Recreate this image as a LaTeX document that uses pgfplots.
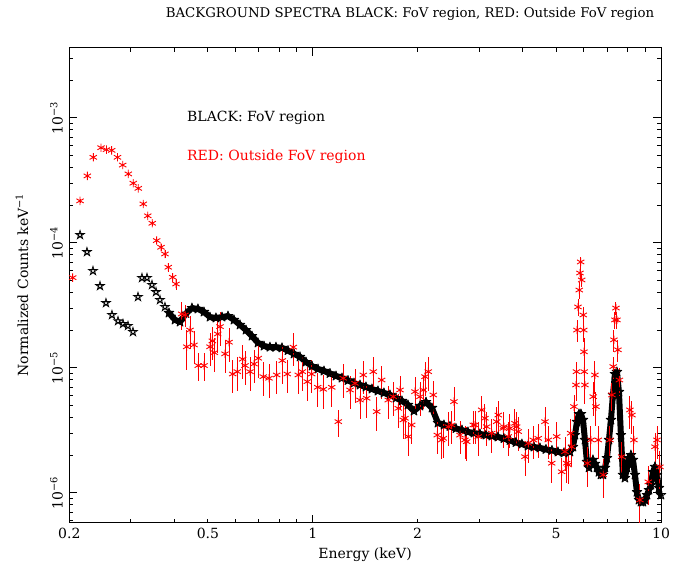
\documentclass[border=0pt]{standalone}
\usepackage{pgfplots}
\pgfplotsset{compat=1.18}
\usepackage{fontspec}
\setmainfont{DejaVu Serif}

% outline five-pointed star, as in the PGPLOT plot
\pgfdeclareplotmark{pstar}{%
  \pgfpathmoveto{\pgfqpointpolar{90}{\pgfplotmarksize}}%
  \pgfpathlineto{\pgfqpointpolar{234}{\pgfplotmarksize}}%
  \pgfpathlineto{\pgfqpointpolar{18}{\pgfplotmarksize}}%
  \pgfpathlineto{\pgfqpointpolar{162}{\pgfplotmarksize}}%
  \pgfpathlineto{\pgfqpointpolar{306}{\pgfplotmarksize}}%
  \pgfpathclose\pgfusepathqstroke}

\begin{document}
\begin{tikzpicture}
\useasboundingbox (-69.3bp,-48.3bp) rectangle (603.7bp,522.7bp);
\begin{axis}[
    at={(0,0)}, anchor=south west,
    scale only axis,
    width=591.7bp, height=474.7bp,
    xmode=log, ymode=log,
    xmin=0.2, xmax=10,
    ymin=5.75e-7, ymax=3.61e-3,
    axis line style={line width=1bp},
    every tick/.style={black, line width=0.8bp},
    major tick length=8bp,
    minor tick length=4bp,
    xtick={1,10},
    xticklabels={1,10},
    extra x ticks={0.2,0.5,2,5},
    extra x tick labels={0.2,0.5,2,5},
    extra x tick style={major tick length=4bp},
    minor xtick={0.3,0.4,0.6,0.7,0.8,0.9,3,4,6,7,8,9},
    ytick={1e-6,1e-5,1e-4,1e-3},
    yticklabels={10\textsuperscript{−6},10\textsuperscript{−5},10\textsuperscript{−4},10\textsuperscript{−3}},
    minor ytick={6e-7,7e-7,8e-7,9e-7,2e-6,3e-6,4e-6,5e-6,6e-6,7e-6,8e-6,9e-6,
                 2e-5,3e-5,4e-5,5e-5,6e-5,7e-5,8e-5,9e-5,
                 2e-4,3e-4,4e-4,5e-4,6e-4,7e-4,8e-4,9e-4,2e-3,3e-3},
    /pgf/number format/assume math mode=true,
    tick label style={font=\fontsize{14bp}{16bp}\selectfont},
    yticklabel style={xshift=-3bp, rotate=90, anchor=south},
    xticklabel style={yshift=-2bp},
]

% BLACK: FoV region, low-energy channels
\addplot[only marks, mark=pstar, mark size=4.5bp, black, line width=0.8bp] table {
x y
0.2147 1.152e-4
0.2248 8.42e-5
0.2339 5.94e-5
0.2450 4.50e-5
0.2549 3.29e-5
0.2652 2.64e-5
0.2760 2.36e-5
0.2852 2.24e-5
0.2948 2.16e-5
0.3047 1.93e-5
0.3150 3.68e-5
0.3234 5.22e-5
0.3343 5.22e-5
0.3455 4.59e-5
0.3548 4.03e-5
0.3643 3.48e-5
0.3765 3.06e-5
};

% BLACK: FoV region, dense channels drawn as a band
\addplot[black, line width=6bp, line join=round, line cap=round,
    mark=pstar, mark size=5bp, mark options={line width=0.9bp}] table {
x y
0.3866 2.74e-5
0.4023 2.41e-5
0.4158 2.32e-5
0.4326 2.71e-5
0.4500 3.00e-5
0.4682 2.95e-5
0.4872 2.79e-5
0.5069 2.54e-5
0.5274 2.50e-5
0.5488 2.54e-5
0.5710 2.59e-5
0.5941 2.41e-5
0.6182 2.20e-5
0.6432 2.00e-5
0.6692 1.79e-5
0.6963 1.58e-5
0.7245 1.49e-5
0.7538 1.46e-5
0.7843 1.46e-5
0.8161 1.44e-5
0.8491 1.37e-5
0.8835 1.29e-5
0.9192 1.22e-5
0.9563 1.11e-5
0.9950 1.03e-5
1.0353 9.76e-6
1.0772 9.41e-6
1.1208 8.99e-6
1.1661 8.58e-6
1.2133 8.27e-6
1.2624 7.90e-6
1.3135 7.54e-6
1.3666 7.27e-6
1.4219 7.01e-6
1.4794 6.75e-6
1.5393 6.51e-6
1.6016 6.28e-6
1.6664 6.05e-6
1.7338 5.72e-6
1.8040 5.42e-6
1.8770 5.03e-6
1.9529 4.50e-6
2.0319 4.94e-6
2.1141 5.31e-6
2.1997 4.76e-6
2.2887 3.61e-6
2.3813 3.48e-6
2.4776 3.39e-6
2.5779 3.26e-6
2.6822 3.17e-6
2.7907 3.06e-6
2.9036 3.00e-6
3.0211 2.95e-6
3.1434 2.89e-6
3.2706 2.84e-6
3.4029 2.79e-6
3.5406 2.71e-6
3.6838 2.62e-6
3.8329 2.52e-6
3.9880 2.45e-6
4.1493 2.36e-6
4.3172 2.32e-6
4.4919 2.28e-6
4.6736 2.22e-6
4.8627 2.18e-6
5.0595 2.12e-6
5.2642 2.08e-6
5.4772 2.12e-6
5.587 2.32e-6
5.662 2.89e-6
5.737 3.68e-6
5.814 4.26e-6
5.891 4.26e-6
5.970 3.82e-6
6.049 2.64e-6
6.129 1.76e-6
6.211 1.58e-6
6.294 1.73e-6
6.377 1.83e-6
6.462 1.70e-6
6.548 1.58e-6
6.635 1.46e-6
6.724 1.39e-6
6.813 1.39e-6
6.904 1.58e-6
6.995 1.89e-6
7.088 2.64e-6
7.183 3.82e-6
7.278 6.05e-6
7.375 8.90e-6
7.473 9.24e-6
7.573 6.39e-6
7.673 2.89e-6
7.775 1.39e-6
7.879 1.31e-6
7.984 1.58e-6
8.090 1.89e-6
8.198 2.00e-6
8.307 1.83e-6
8.417 1.39e-6
8.529 1.01e-6
8.643 8.74e-7
8.758 8.42e-7
8.874 8.42e-7
8.992 8.74e-7
9.112 9.58e-7
9.233 1.05e-6
9.356 1.15e-6
9.480 1.46e-6
9.607 1.61e-6
9.736 1.39e-6
9.865 1.09e-6
9.997 9.58e-7
};

% RED: Outside FoV region (relative errors in column e)
\addplot[only marks, mark=asterisk, mark size=4.2bp, red, line width=0.9bp,
    error bars/.cd, y dir=both, y explicit relative, error mark=none,
    error bar style={red, line width=0.9bp}]
  table[x=x, y=y, y error=e] {
x y e
0.2045 5.25e-5 0.05
0.2147 2.16e-4 0.03
0.2253 3.42e-4 0.02
0.2344 4.82e-4 0.02
0.2467 5.75e-4 0.02
0.2557 5.55e-4 0.02
0.2647 5.48e-4 0.02
0.2750 4.82e-4 0.02
0.2847 4.18e-4 0.02
0.2954 3.55e-4 0.03
0.3053 2.99e-4 0.03
0.3156 2.72e-4 0.03
0.3262 2.04e-4 0.04
0.3360 1.64e-4 0.04
0.3462 1.43e-4 0.05
0.3564 1.04e-4 0.06
0.3667 9.19e-5 0.06
0.3765 8.12e-5 0.07
0.3848 6.36e-5 0.08
0.3962 5.29e-5 0.09
0.4049 4.67e-5 0.10
0.4205 2.69e-5 0.25
0.4298 2.64e-5 0.20
0.4346 1.47e-5 0.35
0.4442 2.00e-5 0.30
0.4561 1.52e-5 0.30
0.4692 1.04e-5 0.25
0.4873 1.04e-5 0.25
0.5070 1.47e-5 0.30
0.5148 1.64e-5 0.30
0.5216 1.32e-5 0.30
0.5335 1.86e-5 0.30
0.5417 2.13e-5 0.30
0.5599 1.29e-5 0.30
0.5749 1.60e-5 0.30
0.5891 8.90e-6 0.30
0.6073 9.29e-6 0.30
0.6293 1.17e-5 0.30
0.6390 1.04e-5 0.30
0.6605 9.29e-6 0.30
0.6782 1.07e-5 0.30
0.6977 1.19e-5 0.30
0.7212 8.47e-6 0.30
0.7489 8.23e-6 0.30
0.7880 8.74e-6 0.30
0.8177 1.14e-5 0.35
0.8452 8.90e-6 0.30
0.8794 1.46e-5 0.30
0.9090 8.74e-6 0.30
0.9334 9.29e-6 0.30
0.9648 7.73e-6 0.30
0.9933 8.90e-6 0.30
1.0334 6.97e-6 0.30
1.0724 6.72e-6 0.30
1.1336 6.97e-6 0.30
1.1841 3.70e-6 0.25
1.2239 8.23e-6 0.30
1.2793 6.63e-6 0.30
1.3224 7.50e-6 0.30
1.3668 5.51e-6 0.30
1.3969 8.74e-6 0.30
1.4286 5.69e-6 0.30
1.4924 9.29e-6 0.30
1.5263 4.45e-6 0.30
1.5775 7.97e-6 0.30
1.6479 5.51e-6 0.30
1.7033 5.86e-6 0.30
1.7606 4.73e-6 0.30
1.7805 6.63e-6 0.30
1.8198 3.82e-6 0.30
1.8403 3.94e-6 0.30
1.8809 2.81e-6 0.30
1.9236 3.48e-6 0.30
1.9660 6.43e-6 0.30
2.0317 5.86e-6 0.30
2.0768 6.63e-6 0.30
2.1003 8.47e-6 0.30
2.1466 9.29e-6 0.30
2.2188 6.05e-6 0.30
2.2782 2.89e-6 0.30
2.3454 2.64e-6 0.30
2.3704 2.72e-6 0.30
2.4500 3.37e-6 0.30
2.5056 3.48e-6 0.30
2.5440 5.35e-6 0.30
2.6469 2.89e-6 0.30
2.7358 2.64e-6 0.30
2.7668 2.56e-6 0.30
2.8902 3.48e-6 0.30
2.9228 3.48e-6 0.30
2.9874 2.81e-6 0.30
3.0553 4.59e-6 0.30
3.1226 3.94e-6 0.30
3.1580 3.37e-6 0.30
3.2640 2.99e-6 0.30
3.3742 3.70e-6 0.30
3.4096 4.18e-6 0.30
3.5240 3.27e-6 0.30
3.5404 3.37e-6 0.30
3.6426 2.81e-6 0.30
3.6838 3.27e-6 0.30
3.8076 3.59e-6 0.30
3.8506 3.37e-6 0.30
3.8916 3.08e-6 0.30
4.0678 1.94e-6 0.30
4.1572 2.48e-6 0.30
4.2968 2.64e-6 0.30
4.4412 2.72e-6 0.30
4.6432 3.70e-6 0.30
4.7456 2.64e-6 0.30
4.8544 1.72e-6 0.30
5.0164 2.81e-6 0.30
5.1850 1.47e-6 0.30
5.2994 2.13e-6 0.30
5.3594 1.72e-6 0.30
5.4162 1.67e-6 0.30
5.5030 2.99e-6 0.30
5.5394 2.33e-6 0.30
5.6244 4.88e-6 0.25
5.6992 7.27e-6 0.25
5.7180 9.29e-6 0.20
5.737 2.00e-5 0.20
5.775 3.06e-5 0.15
5.825 4.18e-5 0.15
5.852 5.72e-5 0.12
5.879 7.01e-5 0.10
5.918 5.03e-5 0.12
5.981 2.64e-5 0.15
6.000 2.00e-5 0.20
6.009 1.34e-5 0.30
6.020 9.29e-6 0.30
6.048 7.27e-6 0.30
6.141 1.72e-6 0.35
6.293 2.64e-6 0.30
6.389 5.86e-6 0.30
6.461 8.74e-6 0.30
6.504 4.88e-6 0.30
6.604 2.64e-6 0.30
6.826 1.39e-6 0.35
7.135 2.64e-6 0.30
7.230 6.05e-6 0.25
7.292 1.02e-5 0.20
7.326 1.67e-5 0.20
7.375 2.41e-5 0.15
7.424 3.00e-5 0.12
7.473 2.41e-5 0.15
7.522 1.39e-5 0.20
7.597 7.97e-6 0.25
7.709 1.94e-6 0.30
8.143 4.59e-6 0.30
8.252 4.18e-6 0.30
8.361 2.64e-6 0.30
8.700 8.74e-7 0.35
9.191 1.22e-6 0.35
9.608 2.33e-6 0.30
9.736 2.64e-6 0.30
9.930 1.61e-6 0.35
};
\end{axis}

\node[font=\fontsize{13.3bp}{15bp}\selectfont] at (340.7bp,508.7bp)
  {BACKGROUND SPECTRA BLACK: FoV region, RED: Outside FoV region};
\node[anchor=west, font=\fontsize{14bp}{16bp}\selectfont, inner sep=0pt]
  at (117.7bp,404.7bp) {BLACK: FoV region};
\node[anchor=west, font=\fontsize{14bp}{16bp}\selectfont, inner sep=0pt, red]
  at (117.7bp,365.7bp) {RED: Outside FoV region};
\node[font=\fontsize{14bp}{16bp}\selectfont] at (295.8bp,-32.3bp) {Energy (keV)};
\node[rotate=90, font=\fontsize{14bp}{16bp}\selectfont] at (-47.3bp,237.7bp)
  {Normalized Counts keV\textsuperscript{−1}};
\end{tikzpicture}
\end{document}
